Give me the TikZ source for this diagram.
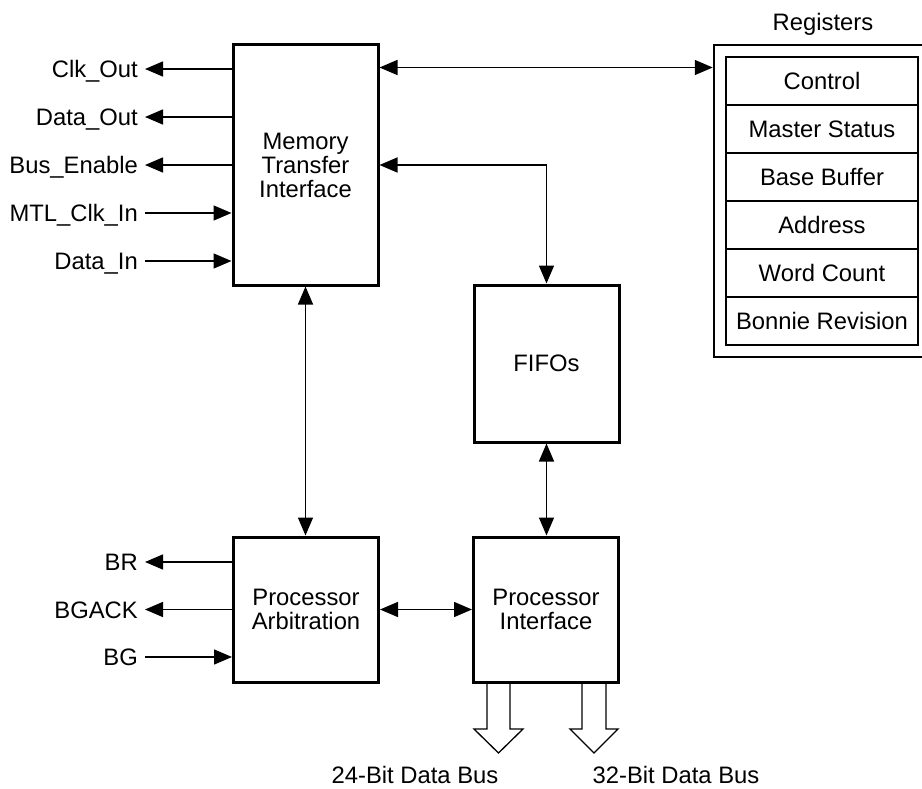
\documentclass[tikz,border=0pt]{standalone}
\usepackage{fontspec}
\setmainfont{Liberation Sans}
\usetikzlibrary{positioning, arrows.meta}

\tikzset{
  blk/.style={draw, line width=3pt, minimum width=145pt, align=center, inner sep=0pt},
  regrow/.style={draw, line width=2.5pt, minimum width=192pt, minimum height=48pt, inner sep=0pt},
  sig/.style={line width=1.4pt},
  pin/.style={anchor=east, inner xsep=7pt, inner ysep=0pt, text height=17pt, text depth=0pt},
  bus/.style={line width=1.3pt, line join=miter},
}

\begin{document}
\begin{tikzpicture}[x=1pt, y=-1pt, >={Triangle[length=18pt,width=15pt]},
  every node/.style={font=\fontsize{23.8}{24}\selectfont}]
\useasboundingbox (0,0) rectangle (922,789);

% main blocks
\node[blk, minimum height=240pt] (mti) at (305.5,165) {Memory\\Transfer\\Interface};
\node[blk, minimum height=157pt] (fifo) at (546.5,363.5) {FIFOs};
\node[blk, minimum height=145pt] (arb) at (306,609.5) {Processor\\Arbitration};
\node[blk, minimum height=145pt] (pif) at (546,609.5) {Processor\\Interface};

% registers
\node[draw, line width=2.5pt, minimum width=210pt, minimum height=312pt] (regs) at (819,201) {};
\node (reglbl) at (823,24.5) {Registers};
\node[regrow] (rctl) at (822,81) {Control};
\node[regrow] (rms) at (822,129) {Master Status};
\node[regrow] (rbb) at (822,177) {Base Buffer};
\node[regrow] (radr) at (822,225) {Address};
\node[regrow] (rwc) at (822,273) {Word Count};
\node[regrow] (rbrev) at (822,321) {Bonnie Revision};

% internal connections
\coordinate (regin) at ([yshift=-24pt]mti.north east);
\draw[sig,<->] (regin) -- (regin -| regs.west);
\draw[sig,<->] (mti.east) -| (fifo.north);
\draw[sig,<->] (mti.south) -- (mti.south |- arb.north);
\draw[sig,<->] (fifo.south) -- (fifo.south |- pif.north);
\draw[sig,<->] (arb.east) -- (arb.east -| pif.west);

% memory side signals
\node[pin] (clkout) at (145,69) {Clk\_Out};
\node[pin] (dataout) at (145,117) {Data\_Out};
\node[pin] (busen) at (145,165) {Bus\_Enable};
\node[pin] (mtlclk) at (145,213) {MTL\_Clk\_In};
\node[pin] (datain) at (145,261) {Data\_In};
\draw[sig,->] (clkout.east -| mti.west) -- (clkout.east);
\draw[sig,->] (dataout.east -| mti.west) -- (dataout.east);
\draw[sig,->] (busen.east -| mti.west) -- (busen.east);
\draw[sig,->] (mtlclk.east) -- (mtlclk.east -| mti.west);
\draw[sig,->] (datain.east) -- (datain.east -| mti.west);

% arbitration signals
\node[pin] (br) at (145,562) {BR};
\node[pin] (bgack) at (145,609.5) {BGACK};
\node[pin] (bg) at (145,657) {BG};
\draw[sig,->] (br.east -| arb.west) -- (br.east);
\draw[sig,->] (bgack.east -| arb.west) -- (bgack.east);
\draw[sig,->] (bg.east) -- (bg.east -| arb.west);

% data buses
\draw[bus] (487,681) -- (487,729) -- (474,729) -- (498.5,753) -- (523,729) -- (510,729) -- (510,681);
\draw[bus] (582,681) -- (582,729) -- (570,729) -- (594,753) -- (618,729) -- (606,729) -- (606,681);
\node[inner sep=0pt] (bus24) at (415,775) {24-Bit Data Bus};
\node[inner sep=0pt] (bus32) at (676,775) {32-Bit Data Bus};

\end{tikzpicture}
\end{document}
